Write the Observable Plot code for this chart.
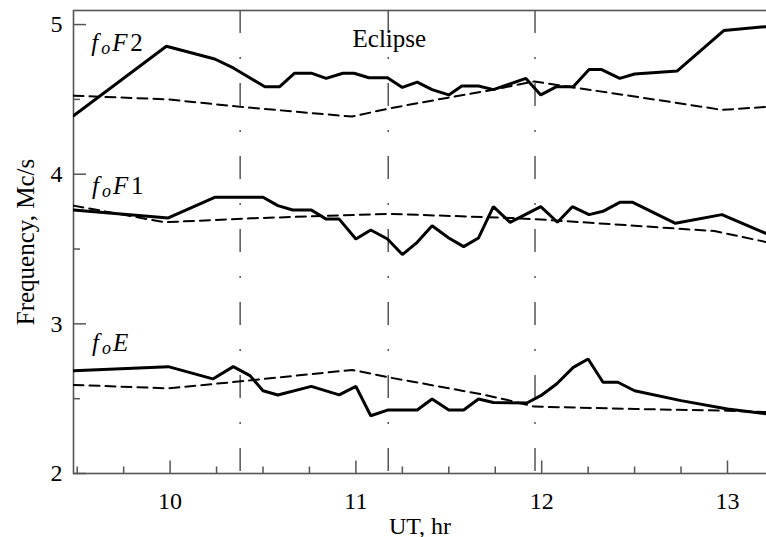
<!DOCTYPE html>
<html><head><meta charset="utf-8">
<script src="https://cdn.jsdelivr.net/npm/d3@7"></script>
<script src="https://cdn.jsdelivr.net/npm/@observablehq/plot@0.6"></script>
<style>
html,body{margin:0;padding:0;background:#fff;overflow:hidden;}
#chart svg{overflow:hidden;display:block;}
</style></head><body><div id="chart"></div>
<script>
// ---- data (UT hours, frequency Mc/s) ----
const f2ObsT = [9.48,9.98,10.24,10.34,10.51,10.59,10.67,10.76,10.84,10.93,10.99,11.07,11.17,11.25,11.33,11.41,11.50,11.57,11.66,11.74,11.915,11.995,12.08,12.17,12.255,12.32,12.42,12.50,12.73,12.98,13.215];
const f2ObsV = [4.39,4.855,4.77,4.71,4.585,4.585,4.675,4.675,4.64,4.675,4.675,4.645,4.645,4.58,4.615,4.565,4.53,4.59,4.59,4.565,4.64,4.53,4.585,4.585,4.70,4.70,4.64,4.67,4.69,4.96,4.987];
const f2RefT = [9.48,9.99,10.38,10.98,11.18,11.49,11.74,11.96,12.17,12.71,12.97,13.215];
const f2RefV = [4.525,4.50,4.45,4.385,4.44,4.51,4.565,4.62,4.58,4.48,4.43,4.45];

const f1ObsT = [9.48,9.99,10.24,10.50,10.58,10.66,10.76,10.84,10.91,11.00,11.08,11.17,11.25,11.33,11.41,11.50,11.58,11.66,11.74,11.83,11.995,12.085,12.165,12.255,12.33,12.42,12.49,12.72,12.97,13.215];
const f1ObsV = [3.761,3.708,3.846,3.846,3.79,3.761,3.761,3.70,3.70,3.567,3.627,3.567,3.463,3.545,3.656,3.574,3.516,3.574,3.783,3.678,3.783,3.679,3.783,3.73,3.752,3.812,3.812,3.672,3.73,3.60];
const f1RefT = [9.48,9.97,10.43,11.17,11.83,11.96,12.50,12.93,13.215];
const f1RefV = [3.79,3.679,3.705,3.735,3.708,3.70,3.656,3.62,3.545];

const eObsT = [9.48,9.99,10.23,10.34,10.43,10.50,10.58,10.76,10.91,11.00,11.08,11.17,11.33,11.41,11.50,11.58,11.66,11.74,11.92,11.995,12.08,12.17,12.25,12.33,12.41,12.50,12.75,13.0,13.215];
const eObsV = [2.687,2.714,2.632,2.714,2.654,2.553,2.525,2.582,2.525,2.582,2.386,2.424,2.424,2.498,2.424,2.424,2.498,2.475,2.471,2.52,2.598,2.709,2.765,2.61,2.61,2.553,2.487,2.431,2.398];
const eRefT = [9.48,9.99,10.38,10.98,11.18,11.67,11.83,11.96,12.50,13.0,13.215];
const eRefV = [2.592,2.569,2.616,2.692,2.642,2.531,2.487,2.447,2.431,2.42,2.41];

const eclipseTimes = [10.377, 11.174, 11.964];
const eclipseLabel = ["Eclipse"];
const eclipseLabelT = [11.18];
const eclipseLabelV = [4.853];

const labelMain = ["f","f","f"];
const labelSub = ["o","o","o"];
const labelLayer = ["F","F","E"];
const labelNum = ["2","1",""];
const labelT = [9.575, 9.58, 9.58];
const labelV = [4.826, 3.870, 2.821];

const xMajor = [10, 11, 12, 13];
const xMinor = [9.5, 9.75, 10.25, 10.5, 10.75, 11.25, 11.5, 11.75, 12.25, 12.5, 12.75];
const yMajor = [2, 3, 4, 5];
const yMinor = [2.5, 3.5, 4.5];

const xTitle = "UT, hr";
const yTitle = "Frequency, Mc/s";

// ---- tables built from arrays ----
const obs = [
  ...f2ObsT.map((t,i)=>({t, v:f2ObsV[i], s:"F2"})),
  ...f1ObsT.map((t,i)=>({t, v:f1ObsV[i], s:"F1"})),
  ...eObsT.map((t,i)=>({t, v:eObsV[i], s:"E"}))
];
const ref = [
  ...f2RefT.map((t,i)=>({t, v:f2RefV[i], s:"F2"})),
  ...f1RefT.map((t,i)=>({t, v:f1RefV[i], s:"F1"})),
  ...eRefT.map((t,i)=>({t, v:eRefV[i], s:"E"}))
];
const labels = labelMain.map((m,i)=>({t:labelT[i], v:labelV[i], text:m+labelSub[i]+labelLayer[i]+labelNum[i]}));
const eclipseRows = eclipseLabel.map((s,i)=>({t:eclipseLabelT[i], v:eclipseLabelV[i], text:s}));

const W = 766, H = 537, mL = 73, mR = 0, mT = 10, mB = 64;
const plotW = W - mL - mR, plotH = H - mT - mB;
const axisColor = "#555";
const serif = "'Liberation Serif', 'DejaVu Serif', serif";

const chart = Plot.plot({
  width: W, height: H,
  marginLeft: mL, marginRight: mR, marginTop: mT, marginBottom: mB,
  style: {fontFamily: serif, fontSize: "24px", color: "#000", background: "#fff"},
  x: {domain: [9.48, 13.21]},
  y: {domain: [2, 5.094]},
  marks: [
    Plot.frame({stroke: axisColor, strokeWidth: 1.6, insetRight: -3}),
    Plot.ruleX(eclipseTimes, {x: d=>d, stroke: "#555", strokeWidth: 1.5, strokeDasharray: "23,24,2,24"}),
    Plot.tickX(xMajor, {x: d=>d, stroke: axisColor, strokeWidth: 1.5, insetTop: plotH - 12.5}),
    Plot.tickX(xMinor, {x: d=>d, stroke: axisColor, strokeWidth: 1.5, insetTop: plotH - 6.5}),
    Plot.tickY(yMajor, {y: d=>d, stroke: axisColor, strokeWidth: 1.5, insetRight: plotW - 13}),
    Plot.tickY(yMinor, {y: d=>d, stroke: axisColor, strokeWidth: 1.5, insetRight: plotW - 7}),
    Plot.axisX({ticks: xMajor, tickSize: 0, tickPadding: 18, fontSize: 24, label: null, tickFormat: d=>String(d)}),
    Plot.axisY({ticks: yMajor, tickSize: 0, tickPadding: 11, fontSize: 24, label: null, tickFormat: d=>String(d)}),
    Plot.line(ref, {x: "t", y: "v", z: "s", stroke: "#000", strokeWidth: 2, strokeDasharray: "10,6", clip: true}),
    Plot.line(obs, {x: "t", y: "v", z: "s", stroke: "#000", strokeWidth: 3, strokeLinejoin: "miter", clip: true}),
    Plot.text(labels, {x: "t", y: "v", text: "text", textAnchor: "start", lineAnchor: "bottom", fontSize: 25, fill: "#000"}),
    Plot.text(eclipseRows, {x: "t", y: "v", text: "text", textAnchor: "middle", lineAnchor: "bottom", fontSize: 25, fill: "#000"}),
    Plot.text([xTitle], {text: d=>d, frameAnchor: "bottom", dy: 60, textAnchor: "middle", lineAnchor: "bottom", fontSize: 24, fill: "#000"}),
    Plot.text([yTitle], {text: d=>d, frameAnchor: "left", dx: -40, rotate: -90, textAnchor: "middle", lineAnchor: "bottom", fontSize: 25, fill: "#000"})
  ]
});
document.getElementById("chart").appendChild(chart);

// style curve labels: f (italic), subscript o, layer letter italic, digit upright
const labelTexts = labels.map(d=>d.text);
d3.select(chart).selectAll("text").each(function(){
  const i = labelTexts.indexOf(this.textContent);
  if (i < 0) return;
  const x0 = +(this.getAttribute("x") || 0);
  const el = d3.select(this);
  el.text(null);
  el.append("tspan").attr("x", x0).attr("font-style", "italic").text(labelMain[i]);
  el.append("tspan").attr("x", x0 + 10).attr("dy", 3).attr("font-size", 18).attr("font-style", "italic").text(labelSub[i]);
  el.append("tspan").attr("x", x0 + 21).attr("dy", -3).attr("font-style", "italic").text(labelLayer[i]);
  if (labelNum[i]) el.append("tspan").attr("x", x0 + 39).text(labelNum[i]);
});
</script>
</body></html>
